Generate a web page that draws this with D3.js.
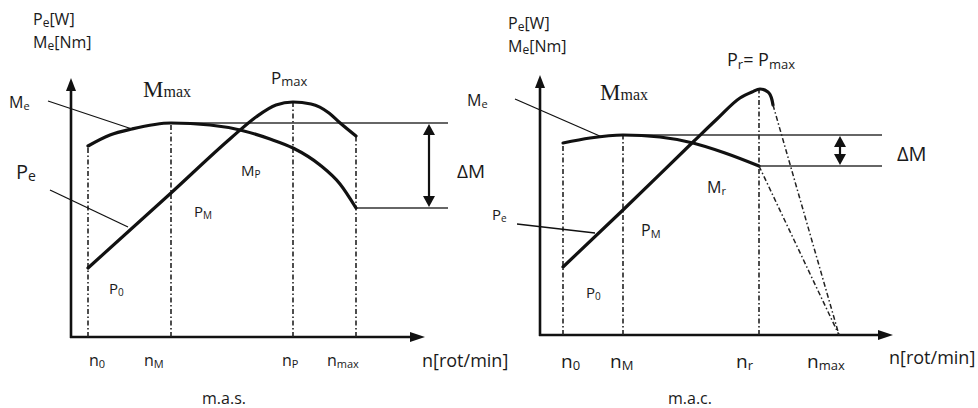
<!DOCTYPE html>
<html lang="ro">
<head>
<meta charset="UTF-8" />
<title>Caracteristici m.a.s. / m.a.c.</title>
<script src="https://d3js.org/d3.v7.min.js"></script>
<style>
  body { margin: 0; background: #fff; }
  text { font-family: "Open Sans", "Noto Sans", sans-serif; fill: #1a1a1a; }
  text.serif { font-family: "Liberation Serif", "DejaVu Serif", serif; }
</style>
</head>
<body>
<div id="chart"></div>
<script>
// values are read off the picture, in offsets from each panel's origin
// m.a.s. (left panel)
const masTickN = [17, 100, 222, 285];               // n0, nM, nP, nmax
const masMeN = [17, 39, 61, 100, 139, 169, 199, 222, 249, 269, 285];
const masMeV = [191, 202, 208, 214, 212, 207, 198, 189, 172, 153, 129];
const masPeN = [17, 100, 160, 185, 205, 222, 240, 258, 268, 285];
const masPeV = [69, 144, 199, 220, 232, 235, 233, 224, 215, 201];
const masTickTop = [191, 214, 235, 201];            // where dash-dot verticals stop

// m.a.c. (right panel)
const macTickN = [23, 83, 219, 299];                // n0, nM, nr, nmax
const macMeN = [23, 50, 83, 120, 153, 185, 219];
const macMeV = [192, 197, 200, 198, 192, 182, 169];
const macPeN = [23, 83, 153, 177, 200, 212, 220, 228, 232, 233];
const macPeV = [68, 125, 193, 216, 237, 243, 246, 243, 235, 230];
const macTickTop = [192, 200, 246, 0];

const masTickLabels = [["n", "0"], ["n", "M"], ["n", "P"], ["n", "max"]];
const macTickLabels = [["n", "0"], ["n", "M"], ["n", "r"], ["n", "max"]];

const svg = d3.select("#chart").append("svg")
  .attr("width", 978).attr("height", 408);

const ink = "#111";
const dashDot = "5,2.5,1.5,2.5";

// text with alternating normal / subscript pieces
function label(x, y, size, segs, opt = {}) {
  const t = svg.append("text").attr("x", x).attr("y", y).attr("font-size", size);
  if (opt.cls) t.attr("class", opt.cls);
  if (opt.anchor) t.attr("text-anchor", opt.anchor);
  const subSize = opt.sub || size * 0.68;
  const shift = opt.shift !== undefined ? opt.shift : size * 0.16;
  segs.forEach((s, i) => {
    const sp = t.append("tspan").text(s);
    if (i % 2) sp.attr("font-size", subSize).attr("dy", shift);
    else if (i > 0) sp.attr("dy", -shift);
  });
  return t;
}

function line(x1, y1, x2, y2, w, color, dash) {
  const l = svg.append("line")
    .attr("x1", x1).attr("y1", y1).attr("x2", x2).attr("y2", y2)
    .attr("stroke", color || ink).attr("stroke-width", w);
  if (dash) l.attr("stroke-dasharray", dash);
  return l;
}

function tri(pts) {
  svg.append("path").attr("d", "M" + pts.map(p => p.join(",")).join("L") + "Z")
    .attr("fill", ink);
}

function drawPanel(x, y, p) {
  const x0 = x.range()[0], x1 = x.range()[1];
  const y0 = y.range()[0], y1 = y.range()[1];

  // axes with arrow heads
  line(x0, y0 + 1, x0, y1 + 12, 2.6);
  tri([[x0, y1], [x0 - 5, y1 + 13], [x0 + 5, y1 + 13]]);
  line(x0 - 1, y0, x1 - 13, y0, 2.6);
  tri([[x1, y0], [x1 - 15, y0 - 5], [x1 - 15, y0 + 5]]);

  // dash-dot verticals
  p.tickN.forEach((n, i) => {
    if (p.tickTop[i] > 0)
      line(x(n), y(0), x(n), y(p.tickTop[i]), 1.6, "#222", dashDot);
  });

  // reference horizontals for delta M
  line(x(p.hiFrom), y(p.hiV), x(p.hEnd), y(p.hiV), 1.4, "#333");
  line(x(p.loFrom), y(p.loV), x(p.hEnd), y(p.loV), 1.4, "#333");

  // double arrow
  const ax = x(p.arrowN), ya = y(p.hiV), yb = y(p.loV);
  line(ax, ya + 10, ax, yb - 10, 2.2);
  tri([[ax, ya + 1], [ax - 6, ya + 12], [ax + 6, ya + 12]]);
  tri([[ax, yb - 1], [ax - 6, yb - 12], [ax + 6, yb - 12]]);

  const curve = d3.line().x(d => x(d[0])).y(d => y(d[1])).curve(d3.curveMonotoneX);
  svg.append("path").datum(d3.zip(p.meN, p.meV)).attr("d", curve)
    .attr("fill", "none").attr("stroke", ink).attr("stroke-width", 3.2)
    .attr("stroke-linecap", "round");
  svg.append("path").datum(d3.zip(p.peN, p.peV)).attr("d", curve)
    .attr("fill", "none").attr("stroke", ink).attr("stroke-width", 3.2)
    .attr("stroke-linecap", "round");
}

// ---------- left: m.a.s. ----------
const xL = d3.scaleLinear().domain([0, 354]).range([71, 425]);
const yL = d3.scaleLinear().domain([0, 259]).range([337, 78]);
drawPanel(xL, yL, {
  tickN: masTickN, tickTop: masTickTop,
  meN: masMeN, meV: masMeV, peN: masPeN, peV: masPeV,
  hiFrom: 100, hiV: 214, loFrom: 285, loV: 129, hEnd: 377, arrowN: 358
});

// ---------- right: m.a.c. ----------
const xR = d3.scaleLinear().domain([0, 353]).range([540, 893]);
const yR = d3.scaleLinear().domain([0, 260]).range([335, 75]);
drawPanel(xR, yR, {
  tickN: macTickN, tickTop: macTickTop,
  meN: macMeN, meV: macMeV, peN: macPeN, peV: macPeV,
  hiFrom: 83, hiV: 200, loFrom: 219, loV: 169, hEnd: 342, arrowN: 300
});
// dash-dot run-out lines down to nmax
const peEnd = macPeN.length - 1, meEnd = macMeN.length - 1;
line(xR(macPeN[peEnd]), yR(macPeV[peEnd]), xR(macTickN[3]), yR(0), 1.5, "#222", dashDot);
line(xR(macMeN[meEnd]), yR(macMeV[meEnd]), xR(macTickN[3]), yR(0), 1.5, "#222", dashDot);

// leader lines
line(48, 101, 132, 129, 1.3);
line(50, 190, 128, 227, 1.3);
line(515, 99, 602, 137, 1.3);
line(517, 224, 595, 233, 1.3);

// ---------- labels, left ----------
label(33, 25, 16, ["P", "e", "[W]"], { sub: 12, shift: 1.5 });
label(33, 48, 16, ["M", "e", "[Nm]"], { sub: 12, shift: 1.5 });
label(9, 108, 16, ["M", "e"], { sub: 11, shift: 2 });
label(16, 179, 20, ["P", "e"], { sub: 14, shift: 2 });
label(143, 97, 23, ["M", "max"], { cls: "serif", sub: 16, shift: 0 });
label(271, 84, 17, ["P", "max"], { sub: 13, shift: 2 });
label(241, 176, 15, ["M", "P"], { sub: 10, shift: 2 });
label(194, 217, 15, ["P", "M"], { sub: 10, shift: 2 });
label(109, 294, 15, ["P", "0"], { sub: 10, shift: 2 });
label(457, 178, 19, ["ΔM"]);
const masLabX = [89, 144, 282, 327];
masTickLabels.forEach((s, i) => label(masLabX[i], 366, 16, s, { sub: 11, shift: 2 }));
label(422, 367, 18, ["n[rot/min]"]);
label(224, 404, 16, ["m.a.s."], { anchor: "middle" });

// ---------- labels, right ----------
label(508, 29, 16, ["P", "e", "[W]"], { sub: 12, shift: 1.5 });
label(508, 52, 16, ["M", "e", "[Nm]"], { sub: 12, shift: 1.5 });
label(467, 106, 16, ["M", "e"], { sub: 11, shift: 2 });
label(492, 220, 15, ["P", "e"], { sub: 10, shift: 2 });
label(600, 100, 23, ["M", "max"], { cls: "serif", sub: 16, shift: 0 });
label(727, 66, 18, ["P", "r", "= P", "max"], { sub: 13, shift: 3 });
label(707, 193, 16, ["M", "r"], { sub: 11, shift: 2 });
label(641, 236, 16, ["P", "M"], { sub: 11, shift: 2 });
label(586, 298, 15, ["P", "0"], { sub: 10, shift: 2 });
label(897, 161, 20, ["ΔM"]);
const macLabX = [561, 610, 736, 807];
macTickLabels.forEach((s, i) => label(macLabX[i], 368, 19, s, { sub: 13, shift: 2 }));
label(889, 364, 18, ["n[rot/min]"]);
label(690, 404, 16, ["m.a.c."], { anchor: "middle" });
</script>
</body>
</html>
